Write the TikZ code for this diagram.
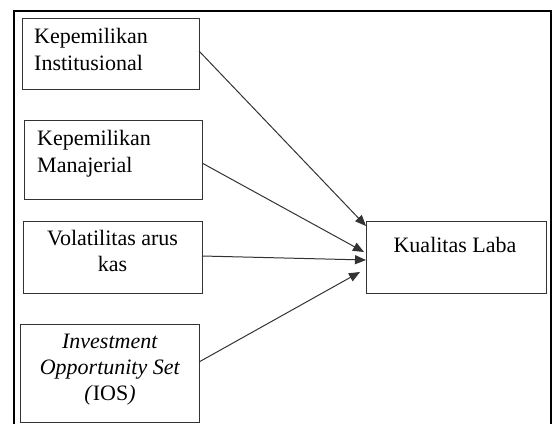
\documentclass[tikz,border=0pt]{standalone}
\usepackage{fontspec}
\setmainfont{Liberation Serif}
\usetikzlibrary{arrows.meta}
\begin{document}
\begin{tikzpicture}[x=1pt,y=-1pt,
  box/.style={draw=black!80,line width=1pt,rectangle,inner sep=0pt,anchor=north west},
  txt/.style={inner sep=0pt,font=\fontsize{22}{27.5}\selectfont},
  conn/.style={draw=black!80,line width=1pt,-{Triangle[length=11pt,width=9pt]}}]
\useasboundingbox (0,0) rectangle (554,423);
% frame
\draw[line width=2pt] (14,424) -- (14,11) -- (551,11) -- (551,424);
% boxes
\node[box,minimum width=177pt,minimum height=71pt] (b1) at (22,18) {};
\node[box,minimum width=178pt,minimum height=79pt] (b2) at (24,120) {};
\node[box,minimum width=179pt,minimum height=72pt] (b3) at (23,221) {};
\node[box,minimum width=179pt,minimum height=98pt] (b4) at (20,324) {};
\node[box,minimum width=180pt,minimum height=72pt] (b5) at (366,221) {};
% texts
\node[txt,anchor=base west] (t1) at (34,43) {\begin{tabular}[t]{@{}l@{}}Kepemilikan\\Institusional\end{tabular}};
\node[txt,anchor=base west] (t2) at (37,145) {\begin{tabular}[t]{@{}l@{}}Kepemilikan\\Manajerial\end{tabular}};
\node[txt,anchor=base,font=\fontsize{22}{26}\selectfont] (t3) at (112.5,245) {\begin{tabular}[t]{@{}c@{}}Volatilitas arus\\kas\end{tabular}};
\node[txt,anchor=base,font=\fontsize{22}{26}\selectfont] (t4) at (110,348) {\begin{tabular}[t]{@{}c@{}}\textit{Investment}\\\textit{Opportunity Set}\\\textit{(}IOS\textit{)}\end{tabular}};
\node[txt,anchor=base] (t5) at (455,252) {Kualitas Laba};
% connector ends
\coordinate (s1) at (199,51);
\coordinate (s2) at (202,163);
\coordinate (s3) at (202,256);
\coordinate (s4) at (199,362);
\coordinate (e1) at (366,226);
\coordinate (e2) at (364,252);
\coordinate (e3) at (366,260);
\coordinate (e4) at (360,272);
\draw[conn] (s1) -- (e1);
\draw[conn] (s2) -- (e2);
\draw[conn] (s3) -- (e3);
\draw[conn] (s4) -- (e4);
\end{tikzpicture}
\end{document}
